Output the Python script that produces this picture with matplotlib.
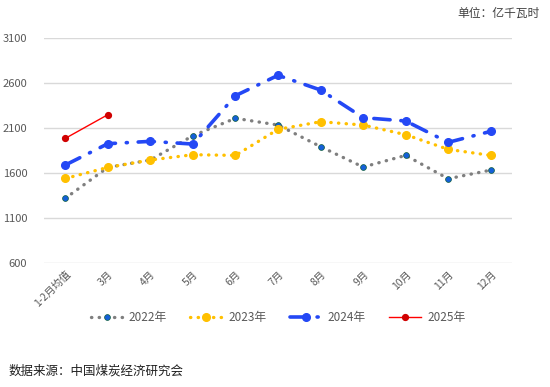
import numpy as np
import matplotlib
matplotlib.use("Agg")
import matplotlib.pyplot as plt

plt.rcParams['font.family'] = ['Noto Sans CJK SC', 'DejaVu Sans']

months = ["1-2月均值", "3月", "4月", "5月", "6月", "7月", "8月", "9月", "10月", "11月", "12月"]
y2022 = [1320, 1663, 1745, 2015, 2208, 2133, 1893, 1667, 1796, 1537, 1633]
y2023 = [1540, 1663, 1745, 1804, 1796, 2085, 2170, 2133, 2026, 1863, 1796]
y2024 = [1689, 1926, 1952, 1922, 2459, 2685, 2522, 2215, 2178, 1941, 2063]
y2025 = [1985, 2248]

fig = plt.figure(figsize=(5.5, 3.87), dpi=100)
ax = fig.add_axes([0.08, 0.32, 0.851, 0.582])
x = np.arange(len(months))

ax.plot(x, y2022, color='#7f7f7f', lw=2.4, linestyle=(0, (0.1, 2.2)),
        dash_capstyle='round', marker='o', ms=4.2, mfc='#1560d8', mec='#0d5c3a',
        mew=0.5, label='2022年', zorder=3)
ax.plot(x, y2023, color='#ffc000', lw=2.4, linestyle=(0, (0.1, 2.2)),
        dash_capstyle='round', marker='o', ms=5.5, mfc='#ffc000', mec='#ffc000',
        label='2023年', zorder=3)
ax.plot(x, y2024, color='#2448f5', lw=2.6, linestyle=(0, (4.5, 3, 0.3, 3)),
        dash_capstyle='round', marker='o', ms=5.5, mfc='#2448f5', mec='#2448f5',
        label='2024年', zorder=4)
ax.plot(x[:len(y2025)], y2025, color='#ff0000', lw=1.0, marker='o', ms=4.2,
        mfc='#d00000', mec='#d00000', label='2025年', zorder=5)

ax.set_xlim(-0.5, len(months) - 0.5)
ax.set_ylim(600, 3100)
ax.set_yticks([600, 1100, 1600, 2100, 2600, 3100])
ax.set_xticks(x)
ax.set_xticklabels(months, rotation=45, ha='right', rotation_mode='anchor')
ax.tick_params(axis='both', length=0, colors='#595959', labelsize=7.5)
ax.tick_params(axis='y', labelsize=8)
ax.tick_params(axis='x', pad=4)
ax.tick_params(axis='y', pad=12)
ax.grid(axis='y', color='#d9d9d9', lw=1)
ax.set_axisbelow(True)
for s in ax.spines.values():
    s.set_visible(False)

leg = ax.legend(loc='upper center', bbox_to_anchor=(0.5, -0.165), ncol=4,
                frameon=False, fontsize=8.5, handlelength=2.7, columnspacing=2.0,
                handletextpad=0.5, labelcolor='#595959')

fig.text(0.982, 0.965, "单位：亿千瓦时", ha='right', va='center', fontsize=8.5, color='#404040')
fig.text(0.015, 0.042, "数据来源：中国煤炭经济研究会", ha='left', va='center', fontsize=9, color='#202020')

fig.savefig("out.png", dpi=100)
